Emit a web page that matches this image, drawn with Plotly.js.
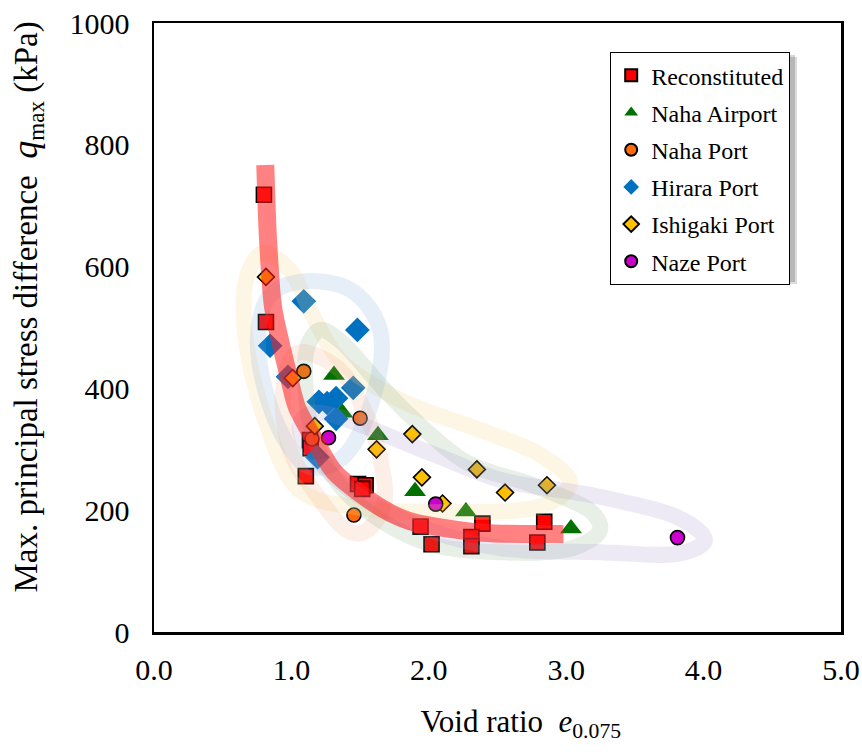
<!DOCTYPE html>
<html>
<head>
<meta charset="utf-8">
<script src="https://cdn.plot.ly/plotly-3.0.1.min.js"></script>
<style>html,body{margin:0;padding:0;background:#fff;}#chart{width:862px;height:755px;}</style>
</head>
<body>
<div id="chart"></div>
<script>
// ---- data ----
const reconX = [0.80, 0.815, 1.135, 1.14, 1.105, 1.485, 1.54, 1.515, 1.94, 2.02, 2.39, 2.31, 2.31, 2.84, 2.79];
const reconY = [718, 509, 315, 302, 256, 243, 241, 235, 173, 144, 178, 156, 141, 181, 147];

const nahaAirportX = [1.31, 1.37, 1.63, 1.90, 2.27, 3.035];
const nahaAirportY = [422, 360, 323, 231, 198, 170];

const nahaPortX = [1.09, 1.15, 1.50, 1.455];
const nahaPortY = [428, 317, 351, 192];

const hiraraX = [1.09, 1.48, 0.845, 0.975, 1.45, 1.20, 1.26, 1.325, 1.325, 1.19];
const hiraraY = [543, 496, 470, 419, 401, 378, 376, 384, 350, 287];

const ishigakiX = [0.815, 1.01, 1.17, 1.62, 1.88, 1.95, 2.10, 2.35, 2.555, 2.86];
const ishigakiY = [583, 417, 338, 300, 325, 254, 211, 267, 229, 241];

const nazeX = [1.27, 2.05, 3.81];
const nazeY = [319, 210, 155];

// hand-drawn trend curve for reconstituted samples
const trendX = [0.81, 0.83, 0.866, 0.917, 0.975, 1.04, 1.17, 1.32, 1.645, 1.79, 1.91, 2.39, 2.98];
const trendY = [767, 644, 534, 479, 425, 369, 315, 261, 205, 188, 179, 163, 161];

// hand-drawn envelopes around each field-sample group
const bandIshigakiX = [0.79, 0.99, 1.135, 1.35, 1.79, 2.37, 2.81, 3.03, 2.85, 2.15, 1.50, 1.06, 0.81, 0.66, 0.68, 0.79];
const bandIshigakiY = [622, 594, 529, 447, 381, 332, 291, 245, 209, 197, 204, 233, 348, 496, 586, 622];

const bandHiraraX = [1.06, 1.43, 1.645, 1.59, 1.37, 1.135, 0.955, 0.79, 0.76, 0.845, 1.06];
const bandHiraraY = [575, 562, 496, 381, 286, 271, 315, 414, 496, 553, 575];

const bandAirportX = [1.21, 1.35, 1.645, 1.86, 2.28, 2.76, 3.195, 3.245, 3.05, 2.52, 2.03, 1.645, 1.35, 1.17, 1.10, 1.12, 1.21];
const bandAirportY = [496, 479, 406, 356, 278, 241, 195, 167, 138, 131, 143, 184, 241, 315, 414, 471, 496];

const bandNahaPortX = [1.04, 0.94, 0.99, 1.16, 1.405, 1.52, 1.67, 1.645, 1.52, 1.33, 1.04];
const bandNahaPortY = [458, 397, 299, 233, 167, 163, 205, 287, 369, 435, 458];

const bandNazeX = [1.16, 2.01, 2.52, 3.245, 3.85, 4.01, 3.85, 3.245, 2.52, 2.01, 1.43, 1.135, 1.06, 1.16];
const bandNazeY = [360, 294, 250, 222, 184, 151, 130, 131, 138, 167, 233, 299, 340, 360];

const xTicks = [0, 1, 2, 3, 4, 5];
const xTickText = ['0.0', '1.0', '2.0', '3.0', '4.0', '5.0'];
const yTicks = [0, 200, 400, 600, 800, 1000];

// ---- traces ----
function pts(name, x, y, symbol, color, size, outline) {
  return {
    type: 'scatter', mode: 'markers', name: name, x: x, y: y,
    legendgroup: name,
    marker: { symbol: symbol, color: color, size: size,
      line: { color: '#000', width: outline ? 1.6 : 0 } }
  };
}
function band(x, y, color, w) {
  return {
    type: 'scatter', mode: 'lines', x: x, y: y, showlegend: false, hoverinfo: 'skip',
    line: { shape: 'spline', smoothing: 1, color: color, width: w }
  };
}

const traces = [
  pts('Reconstituted', reconX, reconY, 'square', '#ff0000', 15, true),
  pts('Naha Airport', nahaAirportX, nahaAirportY, 'triangle-up', '#007000', 19, false),
  pts('Naha Port', nahaPortX, nahaPortY, 'circle', '#ff6a0a', 14, true),
  pts('Hirara Port', hiraraX, hiraraY, 'diamond', '#0070c0', 19, false),
  pts('Ishigaki Port', ishigakiX, ishigakiY, 'diamond', '#ffc000', 13, true),
  pts('Naze Port', nazeX, nazeY, 'circle', '#cc00cc', 14, true),
  band(bandIshigakiX, bandIshigakiY, 'rgba(250,215,130,0.22)', 16),
  band(bandHiraraX, bandHiraraY, 'rgba(120,170,220,0.19)', 16),
  band(bandAirportX, bandAirportY, 'rgba(110,160,110,0.17)', 16),
  band(bandNahaPortX, bandNahaPortY, 'rgba(240,160,110,0.17)', 16),
  band(bandNazeX, bandNazeY, 'rgba(160,140,200,0.18)', 16),
  {
    type: 'scatter', mode: 'lines', x: trendX, y: trendY, showlegend: false, hoverinfo: 'skip',
    line: { shape: 'spline', smoothing: 0.8, color: 'rgba(255,30,30,0.56)', width: 18 }
  }
];

const serif = '"Liberation Serif", "Times New Roman", Times, serif';
const layout = {
  width: 862, height: 755,
  margin: { l: 154, r: 21, t: 23, b: 123 },
  paper_bgcolor: '#fff', plot_bgcolor: '#fff',
  font: { family: serif, color: '#000' },
  showlegend: true,
  legend: {
    x: (610 - 154) / 687, y: (632 - 52) / 609, xanchor: 'left', yanchor: 'top',
    bgcolor: '#fff', bordercolor: '#000', borderwidth: 1.2,
    font: { family: serif, size: 24, color: '#000' },
    tracegroupgap: 3, itemsizing: 'constant'
  },
  xaxis: {
    range: [0, 5], tickvals: xTicks, ticktext: xTickText,
    showgrid: false, zeroline: false, showline: true, linecolor: '#000', linewidth: 2.5,
    mirror: true, ticks: '', ticklabelstandoff: 9,
    tickfont: { family: serif, size: 30, color: '#000' },
    title: { text: '&nbsp;&nbsp;&nbsp;&nbsp;&nbsp;&nbsp;Void ratio&nbsp; <i>e</i><sub>0.075</sub>', font: { family: serif, size: 31, color: '#000' }, standoff: 26 }
  },
  yaxis: {
    range: [0, 1000], tickvals: yTicks,
    showgrid: false, zeroline: false, showline: true, linecolor: '#000', linewidth: 2.5,
    mirror: true, ticks: '', ticklabelstandoff: 16,
    tickfont: { family: serif, size: 30, color: '#000' },
    title: { text: '&nbsp;&nbsp;&nbsp;&nbsp;&nbsp;Max. principal stress difference&nbsp; <i><span style="font-size:36px">q</span></i><sub>max</sub> (kPa)', font: { family: serif, size: 33, color: '#000' }, standoff: 22 }
  },
  shapes: [
    { type: 'rect', xref: 'paper', yref: 'paper', layer: 'above',
      x0: (616 - 154) / 687, x1: (797 - 154) / 687, y0: (632 - 284) / 609, y1: (632 - 57) / 609,
      fillcolor: 'rgba(0,0,0,0.14)', line: { width: 0 } },
    { type: 'rect', xref: 'paper', yref: 'paper', layer: 'above',
      x0: (614 - 154) / 687, x1: (795 - 154) / 687, y0: (632 - 282) / 609, y1: (632 - 55) / 609,
      fillcolor: 'rgba(0,0,0,0.16)', line: { width: 0 } }
  ]
};

Plotly.newPlot('chart', traces, layout, { displayModeBar: false, staticPlot: true });
</script>
</body>
</html>
